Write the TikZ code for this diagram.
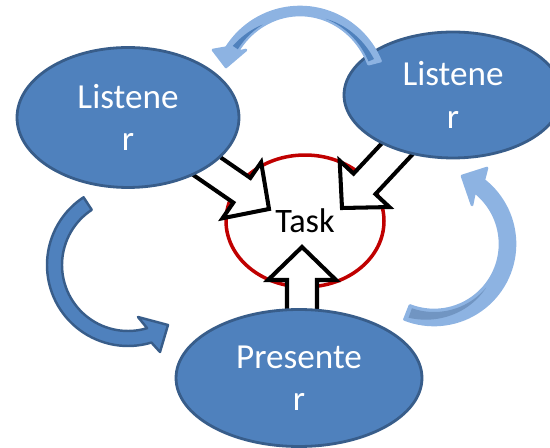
\documentclass[tikz,border=0pt]{standalone}
\usepackage{fontspec}
\setmainfont{Carlito}
\usetikzlibrary{shapes.geometric}
\definecolor{rolefill}{HTML}{4F81BD}
\definecolor{roleline}{HTML}{385D8A}
\definecolor{taskred}{HTML}{C00000}
\definecolor{paleblue}{HTML}{8DB3E2}
\definecolor{greyblue}{HTML}{7195C2}

\begin{document}
\begin{tikzpicture}[x=0.02cm, y=-0.02cm,
  role/.style={ellipse, draw=roleline, fill=rolefill, line width=1.6pt, inner sep=0pt,
    text=white, align=center, font=\fontsize{20}{24}\selectfont},
  taskring/.style={ellipse, draw=taskred, fill=white, line width=2pt, inner sep=0pt,
    font=\fontsize{19.5}{23}\selectfont},
  fatarrow/.style={draw=black, fill=white, line width=2.3pt, line join=miter},
  palecurve/.style={fill=paleblue, draw=paleblue, line width=1.5pt, line join=round},
  darkcurve/.style={fill=rolefill, draw=roleline, line width=1.4pt, line join=round}]
\useasboundingbox (0,0) rectangle (550,448);
\clip (0,0) rectangle (550,448);

\node[taskring, minimum width=3.16cm, minimum height=2.64cm] (task) at (305,221) {Task};

\coordinate (tipL) at (269,209);
\coordinate (tipR) at (342,208);
\coordinate (tipP) at (302,247);
\foreach \tip/\ang/\len in {tipL/-34.6/110, tipR/-133/105, tipP/90/85}
\draw[fatarrow, shift={(\tip)}, rotate=\ang]
	(0,0) -- (-33,-34) -- (-33,-15) -- (-\len,-15) -- (-\len,15) -- (-33,15) -- (-33,34) -- cycle;

\node[role, minimum width=4.44cm, minimum height=2.8cm] (lisL) at (128,117.5) {Listene\\r};
\node[role, minimum width=4.36cm, minimum height=2.52cm] (lisR) at (453,95) {Listene\\r};
\node[role, minimum width=4.92cm, minimum height=2.74cm] (pres) at (299,378) {Presente\\r};

\filldraw[palecurve]
	plot[domain=-22.2:-147.8, samples=40] ({300+87*cos(\x)}, {94+87*sin(\x)})
	-- (213,50) -- (226,67) -- (246,50)
	-- plot[domain=-147.8:-22.2, samples=40] ({300+74*cos(\x)}, {94+79*sin(\x)}) -- cycle;
\fill[rolefill]
	plot[domain=-24:-70, samples=20] ({300+(75+6*(\x+70)/46)*cos(\x)}, {94+(80+6*(\x+70)/46)*sin(\x)})
	-- plot[domain=-70:-24, samples=20] ({300+75*cos(\x)}, {94+80*sin(\x)}) -- cycle;
\fill[rolefill]
	plot[domain=-146:-120, samples=20] ({300+(75+6*(-120-\x)/26)*cos(\x)}, {94+(80+6*(-120-\x)/26)*sin(\x)})
	-- plot[domain=-120:-146, samples=20] ({300+75*cos(\x)}, {94+80*sin(\x)}) -- cycle;

\filldraw[palecurve]
	plot[domain=111.4:-52, samples=50] ({434+81*cos(\x)}, {244+81*sin(\x)})
	-- (487,168) -- (462,176) -- (472,205)
	-- plot[domain=-52:111.4, samples=50] ({434+66*cos(\x)}, {244+66*sin(\x)}) -- cycle;
\fill[greyblue]
	plot[domain=109:40, samples=30] ({434+(68+10*(\x-40)/69)*cos(\x)}, {244+(68+10*(\x-40)/69)*sin(\x)})
	-- plot[domain=40:109, samples=30] ({434+68*cos(\x)}, {244+68*sin(\x)}) -- cycle;

\filldraw[darkcurve]
	plot[domain=236.7:73.2, samples=50] ({128+81*cos(\x)}, {265+81*sin(\x)})
	-- (160,352) -- (168,325) -- (138,317)
	-- plot[domain=73.2:236.7, samples=50] ({128+66*cos(\x)}, {265+66*sin(\x)}) -- cycle;
\end{tikzpicture}
\end{document}
